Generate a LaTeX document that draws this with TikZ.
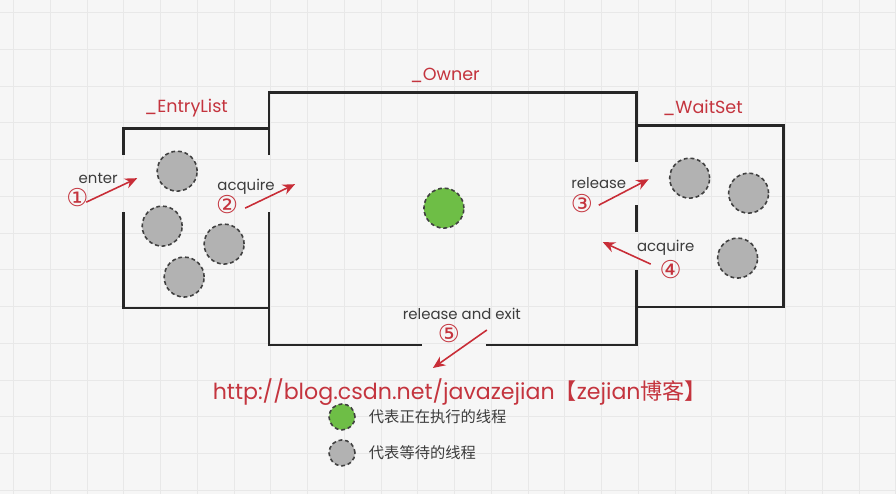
\documentclass[tikz,border=0pt]{standalone}
\usepackage{fontspec}
\setmainfont{Poppins}
\newfontfamily\cjk{Noto Sans CJK SC}
\newfontfamily\circnum{DejaVu Sans}
\usepackage{tikz}
\usetikzlibrary{arrows.meta, positioning}
\definecolor{labred}{RGB}{196,52,62}
\definecolor{arrred}{RGB}{200,45,55}
\definecolor{runGreen}{RGB}{110,190,70}
\definecolor{waitGray}{RGB}{178,178,178}
\definecolor{textgray}{RGB}{60,60,60}
\definecolor{bggray}{RGB}{246,246,246}
\definecolor{gridgray}{RGB}{232,232,232}
\tikzstyle{wall} = [line width=1.6pt, black!85]
\tikzstyle{thread} = [circle, minimum size=0.8cm, inner sep=0pt, draw=black!75, line width=0.9pt, dash pattern=on 2.2pt off 1.6pt, fill=waitGray]
\tikzstyle{running} = [thread, fill=runGreen]
\tikzstyle{setname} = [text=labred, font=\fontsize{10}{12}\selectfont]
\tikzstyle{action} = [text=textgray, font=\fontsize{8.5}{10}\selectfont]
\tikzstyle{num} = [text=labred, font=\circnum\fontsize{14}{16}\selectfont]
\tikzstyle{arrow} = [arrred, line width=0.9pt, -{Stealth[length=7pt,width=6pt]}]

\begin{document}
\begin{tikzpicture}[x=0.02cm, y=-0.02cm]
	% background with faint grid
	\fill[bggray] (0,0) rectangle (896,494);
	\foreach \gx in {0,...,24} \draw[gridgray, line width=0.4pt] (13+36.8*\gx,0) -- (13+36.8*\gx,494);
	\foreach \gy in {0,...,13} \draw[gridgray, line width=0.4pt] (0,12+36.8*\gy) -- (896,12+36.8*\gy);
	\useasboundingbox (0,0) rectangle (896,494);

	% _EntryList
	\draw[wall] (123,155) -- (123,128) -- (270,128);
	\draw[wall] (123,212) -- (123,308) -- (270,308);
	% _Owner
	\draw[wall] (269,155) -- (269,92) -- (637,92) -- (637,162);
	\draw[wall] (269,212) -- (269,345) -- (422,345);
	\draw[wall] (486,345) -- (637,345) -- (637,270);
	\draw[wall] (637,205) -- (637,232);
	% _WaitSet
	\draw[wall] (637,125) -- (784,125) -- (784,307) -- (637,307);

	\node[setname] (entryName) at (186,108) {\_EntryList};
	\node[setname] (ownerName) at (445,75) {\_Owner};
	\node[setname] (waitName) at (703,108) {\_WaitSet};

	% threads
	\node[thread] (e1) at (177,171) {};
	\node[thread] (e2) at (162,226) {};
	\node[thread] (e3) at (224,244) {};
	\node[thread] (e4) at (184,277) {};
	\node[running] (owner) at (444,208) {};
	\node[thread] (w1) at (690,178) {};
	\node[thread] (w2) at (749,193) {};
	\node[thread] (w3) at (738,258) {};

	% transitions
	\coordinate (enterS) at (86,202);
	\coordinate (enterE) at (137,178);
	\coordinate (acqS) at (245,208);
	\coordinate (acqE) at (295,184);
	\coordinate (relS) at (599,205);
	\coordinate (relE) at (649,179);
	\coordinate (reacqS) at (651,264);
	\coordinate (reacqE) at (603,242);
	\coordinate (exitS) at (487,330);
	\coordinate (exitE) at (433,368);
	\draw[arrow] (enterS) -- (enterE);
	\draw[arrow] (acqS) -- (acqE);
	\draw[arrow] (relS) -- (relE);
	\draw[arrow] (reacqS) -- (reacqE);
	\draw[arrow] (exitS) -- (exitE);

	\node[action] (enterLab) at (98,178) {enter};
	\node[num] (n1) at (77,197) {①};
	\node[action] (acqLab) at (246,187) {acquire};
	\node[num] (n2) at (227,204) {②};
	\node[action] (relLab) at (599,183) {release};
	\node[num] (n3) at (582,203) {③};
	\node[action] (reacqLab) at (666,248) {acquire};
	\node[num] (n4) at (671,269) {④};
	\node[action] (exitLab) at (462,314) {release and exit};
	\node[num] (n5) at (449,334) {⑤};

	% blog address
	\node[text=labred, font=\fontsize{12.6}{15}\selectfont] (blog) at (460,392)
		{http://blog.csdn.net/javazejian{\cjk 【}zejian{\cjk 博客】}};

	% legend
	\node[running, minimum size=0.52cm] (legRun) at (342,417) {};
	\node[thread, minimum size=0.52cm] (legWait) at (342,453) {};
	\node[right=0.14cm of legRun, text=textgray, font=\cjk\fontsize{8.7}{10}\selectfont] (legRunText) {代表正在执行的线程};
	\node[right=0.14cm of legWait, text=textgray, font=\cjk\fontsize{8.7}{10}\selectfont] (legWaitText) {代表等待的线程};
\end{tikzpicture}
\end{document}
